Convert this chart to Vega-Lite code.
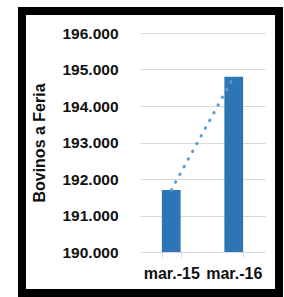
{
  "$schema": "https://vega.github.io/schema/vega-lite/v6.json",
  "width": 257,
  "height": 282,
  "autosize": {"type": "none"},
  "padding": {"left": 22, "top": 11, "right": 5, "bottom": 4},
  "background": "white",
  "config": {
    "view": {"stroke": "black", "strokeWidth": 8, "fill": "white"},
    "font": "Liberation Sans"
  },
  "data": {
    "values": [
      {"mes": "mar.-15", "bovinos": 191700},
      {"mes": "mar.-16", "bovinos": 194800}
    ]
  },
  "encoding": {
    "x": {
      "field": "mes",
      "type": "nominal",
      "sort": null,
      "scale": {"range": [118, 243], "paddingInner": 0.7, "paddingOuter": 0.35},
      "axis": {
        "title": null,
        "offset": -41,
        "domainColor": "#d9d9d9",
        "tickColor": "#d9d9d9",
        "tickSize": 5,
        "tickBand": "extent",
        "labelAngle": 0,
        "labelFont": "Liberation Sans",
        "labelFontSize": 16,
        "labelFontWeight": "bold",
        "labelColor": "#111111",
        "labelPadding": 8
      }
    },
    "y": {
      "field": "bovinos",
      "type": "quantitative",
      "scale": {"domain": [190000, 196000], "range": [241, 22], "nice": false, "zero": false},
      "axis": {
        "title": "Bovinos a Feria",
        "values": [190000, 191000, 192000, 193000, 194000, 195000, 196000],
        "offset": -118,
        "domain": false,
        "ticks": false,
        "labelPadding": 22,
        "labelExpr": "replace(format(datum.value, ',.0f'), ',', '.')",
        "labelFont": "Liberation Sans",
        "labelFontSize": 15.5,
        "labelFontWeight": "bold",
        "labelColor": "#111111",
        "grid": true,
        "gridColor": "#d9d9d9",
        "gridWidth": 1,
        "titleFont": "Liberation Sans",
        "titleFontSize": 16,
        "titleFontWeight": "bold",
        "titleColor": "#111111",
        "titlePadding": 14
      }
    }
  },
  "layer": [
    {
      "mark": {"type": "bar", "color": "#2E75B6"},
      "encoding": {"y2": {"datum": 190000}}
    },
    {
      "mark": {
        "type": "line",
        "color": "#5B9BD5",
        "strokeWidth": 3,
        "strokeDash": [0.5, 8.3],
        "strokeCap": "round"
      }
    }
  ]
}
